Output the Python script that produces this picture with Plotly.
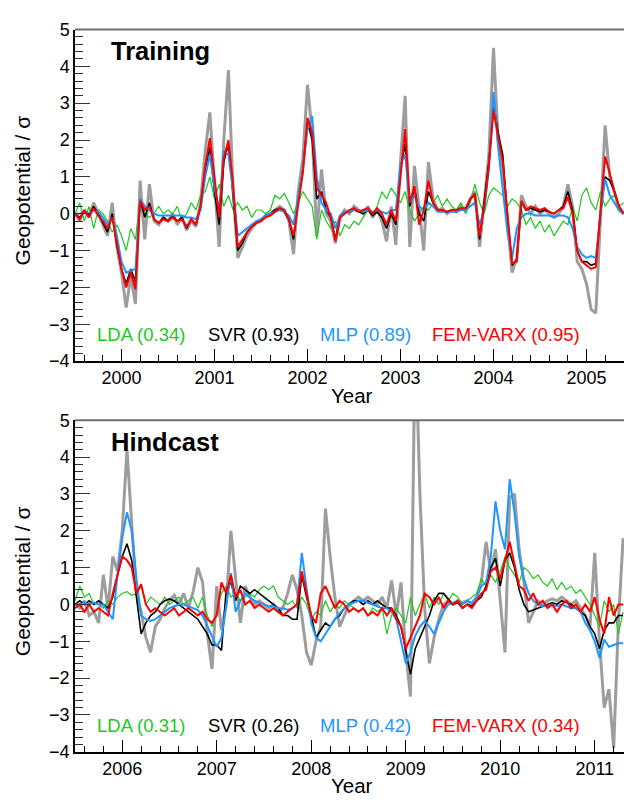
import numpy as np
import plotly.graph_objects as go

W, H = 624, 806
STEP = 0.05  # sampling interval of the series (years)

# ---------------- Training period (1999.5 - 2005.4) ----------------
train_start = 1999.5
truth_train = (
    [0.0, -0.2, 0.1, -0.1, 0.3, 0.0, -0.3, -0.6, 0.3, -0.9] +
    [-1.6, -2.55, -1.7, -2.45, 0.9, -0.7, 0.8, -0.2, -0.3, -0.1] +
    [-0.2, 0.0, -0.3, -0.1, -0.45, -0.2, -0.35, 0.3, 1.7, 2.75] +
    [0.8, -0.9, 2.0, 3.9, 0.6, -1.2, -0.9, -0.6, -0.4, -0.25] +
    [-0.2, -0.05, 0.0, 0.1, 0.2, 0.1, -0.2, -1.1, 0.6, 1.5] +
    [3.5, 2.2, -0.6, 1.2, 0.0, -0.2, -0.8, -0.1, 0.1, 0.0] +
    [0.2, 0.1, 0.0, 0.2, -0.1, 0.1, -0.2, -0.75, 0.2, -0.85] +
    [1.4, 3.2, -0.9, 1.3, 0.2, -1.0, 1.4, 0.4, 0.1, 0.15] +
    [0.0, 0.1, 0.05, 0.2, 0.1, 0.4, 0.6, -0.9, 0.3, 1.6] +
    [4.5, 2.0, 1.2, -0.3, -1.6, -1.2, 0.5, 0.2, 0.0, 0.2] +
    [0.0, 0.1, 0.0, -0.1, 0.0, 0.2, 0.8, 0.2, -1.3, -1.5] +
    [-1.9, -2.6, -2.7, 0.0, 2.4, 1.0, 0.6, 0.1, 0.0]
)
fem_train = (
    [0.0, -0.15, 0.1, -0.1, 0.15, -0.05, -0.2, -0.4, -0.1, -0.8] +
    [-1.5, -2.0, -1.6, -2.05, 0.35, 0.1, 0.2, -0.15, -0.25, -0.15] +
    [-0.2, -0.1, -0.2, -0.15, -0.35, -0.15, -0.3, 0.2, 1.3, 2.05] +
    [0.9, -0.1, 1.5, 2.0, 0.8, -0.9, -0.7, -0.5, -0.35, -0.25] +
    [-0.2, -0.1, -0.05, 0.05, 0.15, 0.1, -0.15, -0.6, 0.3, 1.1] +
    [2.6, 2.2, 0.7, 0.5, 0.3, -0.1, -0.75, -0.1, 0.0, 0.1] +
    [0.15, 0.05, 0.1, 0.15, 0.0, 0.15, 0.0, -0.3, 0.1, -0.2] +
    [1.0, 2.3, 0.3, 0.75, -0.3, 0.1, 0.9, 0.3, 0.1, 0.1] +
    [0.05, 0.1, 0.1, 0.15, 0.15, 0.4, 0.55, -0.6, 0.2, 1.3] +
    [2.8, 2.1, 1.4, 0.0, -1.35, -1.3, 0.35, 0.1, 0.2, 0.15] +
    [0.1, 0.15, 0.05, 0.0, 0.1, 0.15, 0.45, 0.0, -1.0, -1.3] +
    [-1.4, -1.5, -1.45, 0.0, 1.55, 1.1, 0.6, 0.2, 0.0]
)
svr_train = (
    [0.0, -0.1, 0.05, -0.05, 0.2, 0.0, -0.25, -0.5, 0.0, -0.85] +
    [-1.5, -1.9, -1.5, -1.85, 0.4, -0.1, 0.3, -0.15, -0.25, -0.1] +
    [-0.2, -0.05, -0.2, -0.1, -0.4, -0.15, -0.3, 0.2, 1.2, 1.8] +
    [0.6, -0.3, 1.4, 1.9, 0.5, -1.0, -0.8, -0.5, -0.35, -0.25] +
    [-0.15, -0.05, 0.0, 0.1, 0.15, 0.05, -0.15, -0.7, 0.4, 1.2] +
    [2.5, 2.0, 0.4, 0.6, 0.1, -0.1, -0.7, -0.05, 0.05, 0.05] +
    [0.1, 0.05, 0.0, 0.1, -0.05, 0.05, -0.1, -0.4, 0.0, -0.3] +
    [1.2, 1.9, 0.2, 0.7, 0.0, -0.2, 0.6, 0.3, 0.1, 0.1] +
    [0.05, 0.1, 0.05, 0.15, 0.1, 0.4, 0.5, -0.7, 0.3, 1.4] +
    [3.0, 2.2, 1.6, -0.1, -1.4, -1.25, 0.3, 0.1, 0.15, 0.1] +
    [0.05, 0.1, 0.05, 0.0, 0.1, 0.2, 0.6, 0.1, -1.0, -1.3] +
    [-1.3, -1.4, -1.35, 0.0, 1.0, 0.9, 0.6, 0.2, 0.0]
)
mlp_train = (
    [0.0, 0.0, 0.05, 0.0, 0.1, 0.05, -0.1, -0.3, -0.1, -0.6] +
    [-1.3, -1.6, -1.55, -1.5, 0.4, 0.2, 0.1, 0.0, -0.05, -0.05] +
    [-0.05, -0.05, -0.05, -0.05, -0.1, -0.1, -0.15, 0.1, 1.0, 1.6] +
    [0.7, 0.1, 1.7, 1.6, 0.6, -0.6, -0.5, -0.4, -0.3, -0.2] +
    [-0.15, -0.05, 0.0, 0.05, 0.1, 0.05, -0.05, -0.3, 0.4, 1.2] +
    [2.3, 2.65, 1.0, 0.3, 0.1, 0.0, -0.4, -0.05, 0.05, 0.05] +
    [0.1, 0.1, 0.05, 0.1, 0.05, 0.1, 0.05, 0.0, 0.1, 0.1] +
    [1.35, 1.6, 0.3, 0.5, 0.2, 0.1, 0.3, 0.2, 0.05, 0.05] +
    [0.05, 0.05, 0.05, 0.1, 0.1, 0.2, 0.3, -0.3, 0.1, 1.2] +
    [3.3, 1.8, 0.7, -0.5, -1.2, -0.4, -0.1, 0.0, 0.0, -0.05] +
    [-0.05, -0.05, -0.05, -0.1, -0.05, -0.05, -0.1, -0.4, -0.9, -1.1] +
    [-1.2, -1.15, -1.2, 0.0, 0.95, 0.5, 0.3, 0.1, 0.0]
)
lda_train = (
    [0.0, 0.3, -0.2, 0.2, -0.4, 0.1, 0.0, -0.2, -0.5, -0.3] +
    [-0.6, -1.0, -0.4, -0.7, 0.4, 0.0, -0.1, 0.0, 0.2, 0.0] +
    [0.1, 0.0, 0.2, -0.2, 0.0, 0.3, 0.1, 0.5, 0.6, 1.0] +
    [0.4, 0.8, 0.2, 0.5, 0.1, 0.3, 0.1, 0.2, -0.1, 0.1] +
    [0.1, 0.0, 0.1, 0.5, 0.4, 0.55, 0.3, 0.0, 0.3, 0.6] +
    [0.4, 0.2, -0.7, 0.1, -0.2, -0.4, -0.2, -0.6, -0.3, -0.4] +
    [-0.2, -0.3, -0.1, 0.1, 0.0, 0.2, 0.6, 0.4, 0.7, 0.5] +
    [0.3, 0.6, 0.1, -0.2, 0.0, 0.2, 0.1, 0.3, 0.5, 0.2] +
    [0.4, 0.2, 0.1, 0.3, 0.0, 0.3, 0.8, 0.3, 0.0, 0.5] +
    [0.7, 0.6, 0.5, 0.2, 0.4, 0.3, 0.1, -0.3, -0.1, -0.4] +
    [-0.2, -0.5, -0.3, -0.6, -0.4, -0.2, -0.3, 0.2, -0.2, 0.5] +
    [0.7, 0.3, 0.1, 0.6, 0.2, 0.4, 0.5, 0.2, 0.3]
)

# ---------------- Hindcast period (2005.5 - 2011.3) ----------------
hind_start = 2005.5
truth_hind = (
    [0.0, -0.1, 0.1, -0.3, -0.2, -0.5, 0.8, -0.1, 1.3, 0.9] +
    [2.0, 4.2, 2.2, 0.3, -0.2, -0.9, -1.3, -0.6, -0.4, -0.1] +
    [0.1, 0.25, 0.0, 0.3, -0.1, 0.35, 1.0, 0.6, -0.8, -1.75] +
    [0.5, -0.7, 0.0, 2.0, 0.7, -0.5, 0.5, 0.2, 0.0, 0.1] +
    [0.0, -0.1, 0.0, -0.2, -0.1, 0.3, 0.8, 0.4, -0.3, -1.3] +
    [-1.65, -1.0, -0.6, 2.6, 1.3, 0.2, -0.6, -0.3, 0.0, 0.1] +
    [0.2, 0.1, 0.2, 0.1, 0.0, 0.2, -0.1, 0.65, -0.3, 0.6] +
    [-1.3, -2.5, 7.5, 3.0, -0.1, -1.6, -0.9, -0.4, 0.0, 0.1] +
    [0.0, 0.1, 0.05, 0.1, 0.0, 0.2, 0.6, 1.7, 0.9, 1.5] +
    [0.2, -1.3, 2.9, 3.0, 1.5, 0.6, -0.5, -0.2, 0.1, 0.0] +
    [0.1, 0.15, 0.1, 0.2, 0.1, 0.0, 0.1, -0.1, -0.3, -0.6] +
    [1.4, -1.0, -2.8, -2.3, -3.9, -0.5, 1.8]
)
fem_hind = (
    [-0.1, 0.0, -0.2, 0.0, -0.2, -0.1, -0.2, -0.3, 0.3, 0.8] +
    [1.3, 1.2, 1.0, 0.3, 0.55, 0.0, -0.2, -0.1, -0.2, -0.3] +
    [-0.2, -0.1, -0.3, -0.2, -0.1, -0.2, -0.3, -0.2, -0.4, -0.5] +
    [-0.3, 0.6, 0.3, 0.8, 0.2, 0.4, 0.0, 0.1, -0.1, 0.0] +
    [-0.1, -0.2, -0.1, -0.2, -0.3, -0.2, -0.1, 0.0, 0.9, 0.3] +
    [-0.3, -0.5, 0.3, 0.5, 0.2, -0.1, 0.1, 0.0, -0.2, -0.1] +
    [-0.2, -0.1, -0.3, -0.2, -0.3, -0.1, -0.3, -0.1, -0.4, -0.6] +
    [-1.2, -0.9, -0.6, -0.3, 0.3, 0.2, 0.0, 0.2, -0.1, 0.1] +
    [0.0, 0.1, -0.1, 0.0, -0.1, 0.1, 0.3, 0.4, 0.9, 1.0] +
    [0.7, 1.2, 1.7, 1.1, 0.5, 0.4, 0.1, 0.3, 0.0, 0.1] +
    [-0.1, 0.0, -0.2, 0.0, 0.1, -0.1, 0.0, -0.2, 0.0, -0.2] +
    [0.2, -0.4, -0.8, 0.2, -0.3, 0.0, 0.0]
)
svr_hind = (
    [0.0, 0.1, 0.0, 0.1, 0.0, 0.1, 0.0, -0.1, 0.2, 0.8] +
    [1.3, 1.65, 1.2, 0.2, -0.8, -0.5, -0.3, -0.2, 0.0, 0.1] +
    [0.15, 0.1, 0.0, -0.1, -0.2, -0.3, -0.4, -0.6, -0.8, -1.1] +
    [-1.1, -1.25, 0.4, 0.6, 0.1, 0.5, 0.4, 0.3, 0.4, 0.3] +
    [0.2, 0.1, 0.0, -0.1, -0.3, -0.3, -0.4, -0.4, 0.8, 0.2] +
    [-0.3, -0.9, -0.7, -0.5, -0.6, -0.4, -0.3, -0.1, 0.0, 0.1] +
    [0.1, 0.0, 0.1, 0.0, 0.1, 0.0, -0.1, -0.1, -0.3, -0.6] +
    [-1.3, -1.9, -1.2, -0.9, -0.6, -0.3, 0.1, 0.3, 0.3, 0.15] +
    [0.0, 0.05, -0.1, 0.0, -0.05, 0.1, 0.2, 0.5, 1.0, 1.25] +
    [0.5, 1.2, 1.4, 1.0, 0.4, 0.0, -0.2, -0.15, -0.1, -0.05] +
    [0.0, 0.05, 0.0, 0.1, 0.05, 0.0, -0.1, -0.2, -0.3, -0.6] +
    [-0.8, -1.2, -0.7, -0.5, -0.5, -0.3, -0.3]
)
mlp_hind = (
    [0.0, 0.0, 0.05, 0.0, 0.05, 0.0, 0.0, -0.2, -0.4, 0.8] +
    [1.8, 2.5, 2.0, 0.7, -0.3, -0.4, -0.45, -0.4, -0.3, -0.2] +
    [-0.1, -0.05, 0.0, 0.0, -0.05, -0.1, -0.15, -0.3, -0.6, -0.9] +
    [-1.15, -0.9, 0.0, 0.85, -0.2, 0.1, 0.3, 0.2, 0.1, 0.05] +
    [0.0, -0.05, -0.05, -0.1, -0.1, -0.15, -0.1, 0.0, 1.4, 0.5] +
    [-0.5, -0.9, -1.0, -0.8, -0.6, -0.4, -0.25, -0.1, 0.0, 0.05] +
    [0.1, 0.1, 0.05, 0.0, -0.05, -0.1, -0.1, -0.2, -0.4, -1.0] +
    [-1.6, -1.3, -0.85, -0.6, -0.45, -0.6, -0.8, -0.5, -0.2, 0.0] +
    [0.05, 0.1, 0.0, 0.1, 0.05, 0.2, 0.5, 0.6, 1.3, 2.8] +
    [2.0, 1.5, 3.4, 2.5, 1.3, 0.7, 0.3, 0.1, 0.0, -0.05] +
    [-0.05, 0.0, -0.05, 0.0, -0.05, -0.1, -0.1, -0.2, -0.5, -0.7] +
    [-1.0, -1.45, -0.95, -1.15, -1.1, -1.05, -1.05]
)
lda_hind = (
    [0.1, 0.5, 0.2, 0.3, 0.0, 0.1, -0.1, 0.1, 0.0, 0.2] +
    [0.3, 0.35, 0.25, 0.3, 0.5, 0.0, 0.2, 0.1, 0.0, 0.2] +
    [0.0, 0.1, 0.2, 0.0, 0.1, 0.2, -0.1, 0.2, -0.3, -0.6] +
    [-0.2, 0.3, 0.5, 0.2, 0.3, 0.1, 0.2, 0.3, 0.2, 0.4] +
    [0.5, 0.4, 0.5, 0.2, 0.1, 0.0, 0.1, -0.1, 0.2, 0.0] +
    [-0.4, -0.2, -0.3, 0.1, -0.2, 0.0, -0.1, 0.1, 0.0, -0.1] +
    [-0.2, -0.1, -0.3, -0.1, -0.2, -0.1, -0.8, -0.3, -0.1, -0.3] +
    [-0.5, 0.2, -0.3, 0.0, 0.3, -0.1, 0.2, 0.0, 0.3, 0.1] +
    [0.3, 0.2, 0.0, 0.1, 0.2, 0.3, 0.7, 0.5, 0.8, 0.6] +
    [0.9, 1.3, 1.0, 0.8, 0.6, 1.0, 0.9, 0.7, 0.8, 0.6] +
    [0.5, 0.7, 0.4, 0.6, 0.4, 0.5, 0.3, 0.4, 0.2, 0.0] +
    [-0.3, -0.6, 0.1, -0.2, 0.0, -0.8, -0.2]
)

model_names = ["LDA", "SVR", "MLP", "FEM-VARX"]
scores_train = ["0.34", "0.93", "0.89", "0.95"]
scores_hind = ["0.31", "0.26", "0.42", "0.34"]
panel_titles = ["Training", "Hindcast"]

# ---------------- styling ----------------
FONT = "Liberation Sans, Arial, sans-serif"
C_TRUTH = "#9d9d9d"
C_LDA = "#1ec81e"
C_SVR = "#000000"
C_MLP = "#1e96ff"
C_FEM = "#ff0000"
model_colors = [C_LDA, C_SVR, C_MLP, C_FEM]


def px(x):
    return x / W


def py(y):
    return 1 - y / H


fig = go.Figure()

panels = [
    dict(start=train_start, truth=truth_train, lda=lda_train, svr=svr_train,
         mlp=mlp_train, fem=fem_train, xa="x", ya="y"),
    dict(start=hind_start, truth=truth_hind, lda=lda_hind, svr=svr_hind,
         mlp=mlp_hind, fem=fem_hind, xa="x2", ya="y2"),
]

for p in panels:
    styles = [
        ("truth", C_TRUTH, 3.0),
        ("lda", C_LDA, 1.2),
        ("svr", C_SVR, 1.6),
        ("mlp", C_MLP, 2.0),
        ("fem", C_FEM, 2.0),
    ]
    for key, col, lw in styles:
        s = p[key]
        t = p["start"] + STEP * np.arange(len(s))
        fig.add_trace(go.Scatter(x=t, y=s, mode="lines",
                                 line=dict(color=col, width=lw),
                                 xaxis=p["xa"], yaxis=p["ya"],
                                 showlegend=False, hoverinfo="skip"))

# panel geometry in pixels
top_px = [(20, 360), (420.7, 760.7)]
x_left = 75
xranges = [[1999.5, 1999.5 + (W - x_left) / 93.0],
           [2005.5, 2005.5 + (W - x_left) / 94.5]]

common_x = dict(showgrid=False, zeroline=False, showline=True, linecolor="black",
                linewidth=1.5, ticks="inside", ticklen=12, tickwidth=1.3,
                tickcolor="black", dtick=1, tickformat="d",
                tickfont=dict(family=FONT, size=18, color="black"),
                minor=dict(dtick=0.2, ticklen=6, ticks="inside",
                           tickcolor="black", tickwidth=1))
common_y = dict(showgrid=False, zeroline=False, showline=True, linecolor="black",
                linewidth=1.5, ticks="inside", ticklen=15, tickwidth=1.3,
                tickcolor="#333333", dtick=1, tick0=0, range=[-4, 5],
                tickfont=dict(family=FONT, size=18, color="black"),
                minor=dict(dtick=0.2, ticklen=8, ticks="inside",
                           tickcolor="#333333", tickwidth=1))

fig.update_layout(
    width=W, height=H, margin=dict(l=0, r=0, t=0, b=0),
    paper_bgcolor="white", plot_bgcolor="white",
    xaxis=dict(domain=[px(x_left), 1], range=xranges[0], anchor="y",
               tick0=2000, **common_x),
    yaxis=dict(domain=[py(top_px[0][1]), py(top_px[0][0])], anchor="x", **common_y),
    xaxis2=dict(domain=[px(x_left), 1], range=xranges[1], anchor="y2",
                tick0=2006, **common_x),
    yaxis2=dict(domain=[py(top_px[1][1]), py(top_px[1][0])], anchor="x2", **common_y),
)

shapes = []
annotations = []
legend_x = [95, 206, 318, 430]
for i, (ytop, ybot) in enumerate(top_px):
    shapes.append(dict(type="line", xref="paper", yref="paper",
                       x0=px(x_left), x1=1, y0=py(ytop), y1=py(ytop),
                       line=dict(color="#6e6e6e", width=2.2)))
    annotations.append(dict(text="<b>%s</b>" % panel_titles[i], xref="paper", yref="paper",
                            x=px(109), y=py(ytop + 22), xanchor="left", yanchor="middle",
                            showarrow=False,
                            font=dict(family=FONT, size=25.5, color="black")))
    annotations.append(dict(text="Geopotential / σ", xref="paper", yref="paper",
                            x=px(22), y=py(ytop + 165), xanchor="center", yanchor="middle",
                            textangle=-90, showarrow=False,
                            font=dict(family=FONT, size=21, color="black")))
    annotations.append(dict(text="Year", xref="paper", yref="paper",
                            x=px(352), y=py(ybot + 35), xanchor="center", yanchor="middle",
                            showarrow=False,
                            font=dict(family=FONT, size=20.5, color="black")))
    scores = scores_train if i == 0 else scores_hind
    for j, name in enumerate(model_names):
        annotations.append(dict(text="%s (%s)" % (name, scores[j]), xref="paper", yref="paper",
                                x=px(legend_x[j]), y=py(ybot - 27), xanchor="left",
                                yanchor="middle", showarrow=False,
                                font=dict(family=FONT, size=18.5, color=model_colors[j])))

fig.update_layout(shapes=shapes, annotations=annotations)
fig.write_html("out.html")
